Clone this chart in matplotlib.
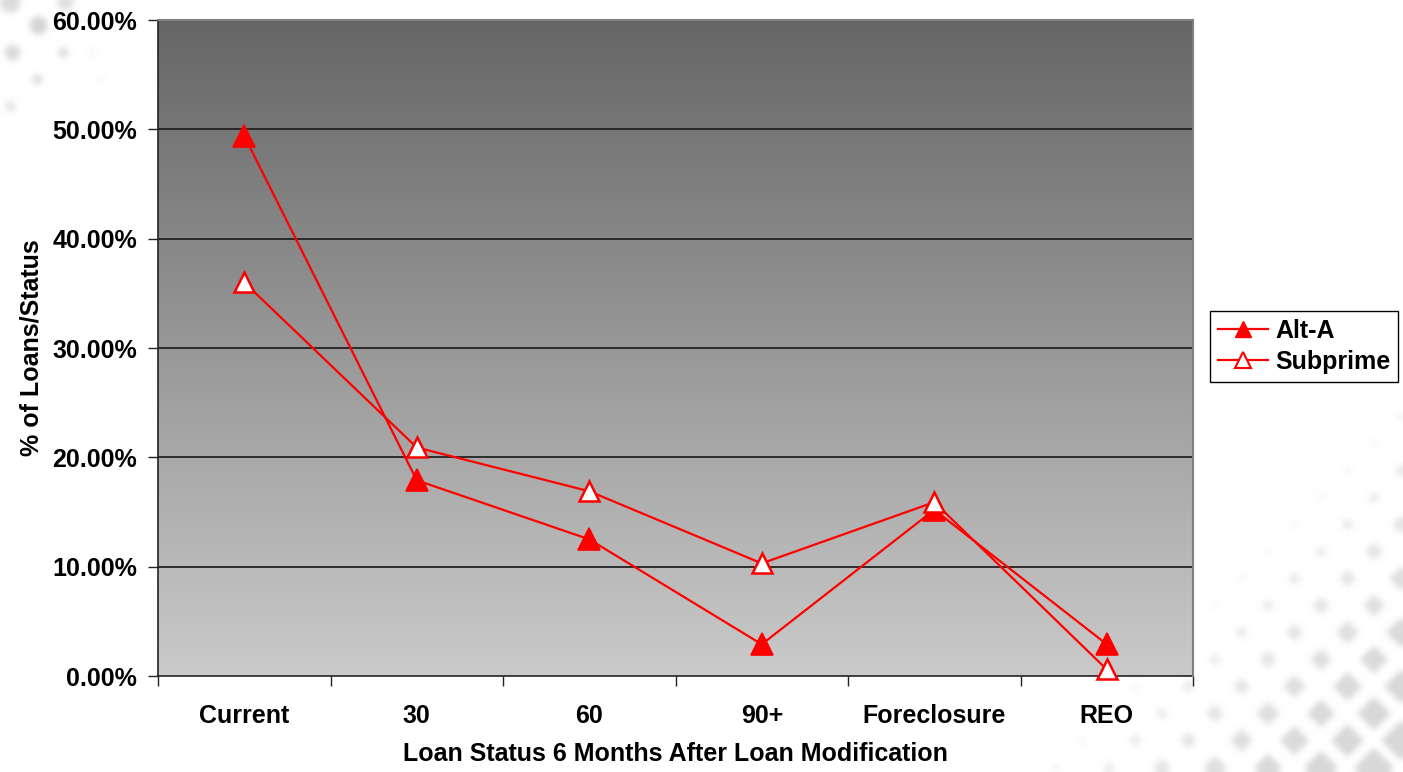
import numpy as np
import matplotlib
matplotlib.use("Agg")
import matplotlib.pyplot as plt
from matplotlib.colors import LinearSegmentedColormap
from matplotlib.lines import Line2D

plt.rcParams['font.family'] = ['Liberation Sans', 'DejaVu Sans']
plt.rcParams['font.weight'] = 'bold'

# --- data -----------------------------------------------------------------
categories = ["Current", "30", "60", "90+", "Foreclosure", "REO"]
alt_a = [49.4, 17.9, 12.5, 2.9, 15.2, 2.9]
subprime = [36.0, 20.9, 16.9, 10.3, 15.9, 0.6]
y_ticks = [0, 10, 20, 30, 40, 50, 60]
x_title = "Loan Status 6 Months After Loan Modification"
y_title = "% of Loans/Status"

W, H = 1403, 772
FS = 18
fig = plt.figure(figsize=(W / 100, H / 100), dpi=100)
fig.patch.set_facecolor("white")


# --- faint decorative pattern in the page background ------------------------
def box_blur(img, k):
    pad = k // 2
    out = img
    for axis in (0, 1):
        p = np.pad(out, [(pad, pad) if a == axis else (0, 0) for a in range(2)], mode="edge")
        c = np.cumsum(p, axis=axis)
        c = np.insert(c, 0, 0, axis=axis)
        if axis == 0:
            out = (c[k:, :] - c[:-k, :]) / k
        else:
            out = (c[:, k:] - c[:, :-k]) / k
    return out


dark = np.zeros((H, W))
yy, xx = np.mgrid[0:H, 0:W]
for i in range(-5, 30):
    for j in range(-5, 30):
        cx = 1400 + 26.5 * (j - i)
        cy = 470 + 27 * (i + j)
        if not (-30 < cx < W + 30 and -30 < cy < H + 30):
            continue
        s = cx + cy
        r = min(21.0, 6 + (s - 1870) * 0.05)
        if r <= 1.5:
            continue
        strength = min(0.15, 0.05 + (s - 1800) * 0.0004)
        x0, x1 = int(max(0, cx - r - 1)), int(min(W, cx + r + 2))
        y0, y1 = int(max(0, cy - r - 1)), int(min(H, cy + r + 2))
        if x0 >= x1 or y0 >= y1:
            continue
        sub = (np.abs(xx[y0:y1, x0:x1] - cx) + np.abs(yy[y0:y1, x0:x1] - cy)) <= r
        dark[y0:y1, x0:x1] = np.maximum(dark[y0:y1, x0:x1], sub * strength)

for cx, cy, r, st in [(10, 2, 10, 0.14), (65, 2, 8, 0.12), (38, 25, 9, 0.16),
                      (12, 52, 8, 0.14), (63, 52, 5, 0.13), (37, 79, 5, 0.13),
                      (10, 106, 5, 0.10), (92, 52, 3, 0.05), (100, 79, 3, 0.04)]:
    m = (xx - cx) ** 2 + (yy - cy) ** 2 <= r * r
    dark = np.maximum(dark, m * st)

dark = box_blur(box_blur(dark, 7), 7)
bg = np.clip(1 - dark, 0, 1)
ax_bg = fig.add_axes([0, 0, 1, 1], zorder=-5)
ax_bg.imshow(np.dstack([bg, bg, bg]), extent=(0, W, H, 0), aspect="auto", interpolation="bilinear")
ax_bg.set_xlim(0, W)
ax_bg.set_ylim(H, 0)
ax_bg.axis("off")

# --- main plot --------------------------------------------------------------
left, right, top, bottom = 158, 1193, 20, 676
ax = fig.add_axes([left / W, 1 - bottom / H, (right - left) / W, (bottom - top) / H])
ax.set_facecolor("none")

n = len(categories)
x = np.arange(n)
ax.set_xlim(-0.5, n - 0.5)
ax.set_ylim(0, 60)

grad_cmap = LinearSegmentedColormap.from_list("g", ["#cacaca", "#666666"])
ax.imshow(np.linspace(0, 1, 256).reshape(-1, 1), cmap=grad_cmap, origin="lower",
          extent=(-0.5, n - 0.5, 0, 60), aspect="auto", zorder=0)

for v in y_ticks[1:-1]:
    ax.axhline(v, color="#222222", lw=1.3, zorder=1)

ax.plot(x, alt_a, color="#ff0000", lw=1.6, marker="^", markersize=16,
        markerfacecolor="#ff0000", markeredgecolor="#ff0000", markeredgewidth=1.2,
        zorder=3, clip_on=False)
ax.plot(x, subprime, color="#ff0000", lw=1.6, marker="^", markersize=15,
        markerfacecolor="white", markeredgecolor="#ff0000", markeredgewidth=1.8,
        zorder=4, clip_on=False)

ax.set_yticks(y_ticks)
ax.set_yticklabels([f"{v:.2f}%" for v in y_ticks])
ax.set_xticks(x)
ax.set_xticklabels(categories)
ax.set_xticks(np.arange(n + 1) - 0.5, minor=True)
ax.tick_params(axis="x", which="major", length=0, pad=20, labelsize=FS)
ax.tick_params(axis="x", which="minor", length=7, width=1, color="#222222", direction="out")
ax.tick_params(axis="y", length=7, width=1, color="#222222", direction="out", pad=8, labelsize=FS)

for side in ("left", "bottom"):
    ax.spines[side].set_color("#222222")
    ax.spines[side].set_linewidth(1.2)
for side in ("right", "top"):
    ax.spines[side].set_color("#808080")
    ax.spines[side].set_linewidth(1.5)
ax.spines["right"].set_zorder(6)

ax.set_xlabel(x_title, fontsize=FS, fontweight="bold", labelpad=10)
ax.set_ylabel(y_title, fontsize=FS, fontweight="bold", labelpad=6)

handles = [
    Line2D([], [], color="#ff0000", lw=1.6, marker="^", markersize=11,
           markerfacecolor="#ff0000", markeredgecolor="#ff0000"),
    Line2D([], [], color="#ff0000", lw=1.6, marker="^", markersize=11,
           markerfacecolor="white", markeredgecolor="#ff0000", markeredgewidth=1.5),
]
leg = fig.legend(handles, ["Alt-A", "Subprime"], loc="upper left",
                 bbox_to_anchor=(1210 / W, 1 - 311 / H), borderaxespad=0,
                 frameon=True, fancybox=False, edgecolor="black", framealpha=1,
                 prop={"size": FS, "weight": "bold"}, handlelength=2.0,
                 handletextpad=0.3, borderpad=0.3, labelspacing=0.3)
leg.get_frame().set_linewidth(1.0)

fig.savefig("out.png", dpi=100)
